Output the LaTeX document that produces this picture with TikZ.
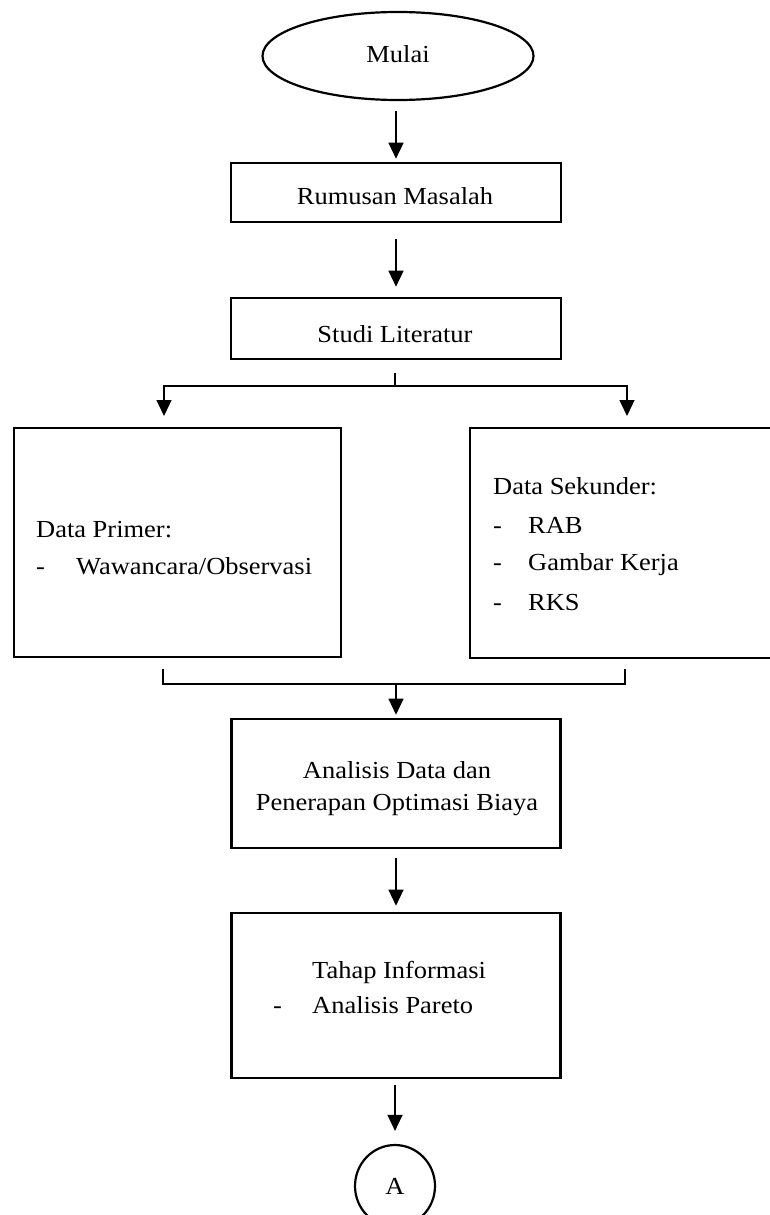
\documentclass[tikz,border=0pt]{standalone}
\usepackage{fontspec}
\setmainfont{Liberation Serif}[FakeStretch=1.08]
\usetikzlibrary{arrows.meta,shapes.geometric}
\begin{document}
\begin{tikzpicture}[x=1pt,y=-1pt,
  box/.style={draw, line width=2.6pt, rectangle, inner sep=0pt},
  oval/.style={draw, line width=2.2pt, ellipse, inner sep=0pt},
  txt/.style={inner sep=0pt, font=\fontsize{24.5pt}{30pt}\selectfont},
  link/.style={line width=1.3pt},
  arr/.style={link, -{Triangle[width=15pt,length=16pt]}},
]
\useasboundingbox (0,0) rectangle (770,1215);

% shapes
\node[oval, minimum width=271pt, minimum height=88pt] (start) at (398,56) {};
\node[box, minimum width=330pt, minimum height=59pt] (rumusan) at (396,192.5) {};
\node[box, minimum width=330pt, minimum height=61pt] (studi) at (396,328.5) {};
\node[box, minimum width=327pt, minimum height=229pt] (primer) at (177.5,542.5) {};
\node[box, minimum width=330pt, minimum height=230pt] (sekunder) at (635,543) {};
\node[box, minimum width=329pt, minimum height=129pt] (analisis) at (396,783.5) {};
\node[box, minimum width=329pt, minimum height=165pt] (tahap) at (396,995.5) {};
\node[oval, minimum width=80pt, minimum height=82pt] (conn) at (395,1186) {};

% texts
\node[txt, anchor=base] (tstart) at (398,63) {Mulai};
\node[txt, anchor=base] (trumusan) at (395,204) {Rumusan Masalah};
\node[txt, anchor=base] (tstudi) at (395,342) {Studi Literatur};

\node[txt, anchor=base west] (tprim) at (36,537) {Data Primer:};
\node[txt, anchor=base west] (dprim) at (36,574) {-};
\node[txt, anchor=base west] (tprima) at (76,574) {Wawancara/Observasi};

\node[txt, anchor=base west] (tsek) at (493,494) {Data Sekunder:};
\node[txt, anchor=base west] (dseka) at (493,533) {-};
\node[txt, anchor=base west] (tseka) at (528,533) {RAB};
\node[txt, anchor=base west] (dsekb) at (493,570) {-};
\node[txt, anchor=base west] (tsekb) at (528,570) {Gambar Kerja};
\node[txt, anchor=base west] (dsekc) at (493,610) {-};
\node[txt, anchor=base west] (tsekc) at (528,610) {RKS};

\node[txt, anchor=base] (tana) at (397,778) {Analisis Data dan};
\node[txt, anchor=base] (tanb) at (397,810) {Penerapan Optimasi Biaya};

\node[txt, anchor=base west] (ttah) at (312,978) {Tahap Informasi};
\node[txt, anchor=base west] (dtah) at (273,1013) {-};
\node[txt, anchor=base west] (ttahb) at (312,1013) {Analisis Pareto};

\node[txt, anchor=base] (tconn) at (395,1194) {A};

% branch and merge points
\coordinate (split) at (395,386);
\coordinate (ldrop) at (164,416);
\coordinate (rdrop) at (627,416);
\coordinate (ltick) at (163,669);
\coordinate (rtick) at (625,669);
\coordinate (join) at (396,684);

% connectors
\draw[arr, shorten <=10pt, shorten >=3pt] (rumusan.north |- start.south) -- (rumusan.north);
\draw[arr, shorten <=16pt, shorten >=10pt] (rumusan.south) -- (studi.north);
\draw[link, shorten <=13pt] (studi.south -| split) -- (split);
\draw[arr] (split) -| (ldrop);
\draw[arr] (split) -| (rdrop);
\draw[link] (ltick) |- (join) -| (rtick);
\draw[arr, shorten >=3pt] (join) -- (analisis.north);
\draw[arr, shorten <=9pt, shorten >=6pt] (analisis.south) -- (tahap.north);
\draw[arr, shorten <=6pt, shorten >=13pt] (tahap.south -| conn.north) -- (conn.north);
\end{tikzpicture}
\end{document}
